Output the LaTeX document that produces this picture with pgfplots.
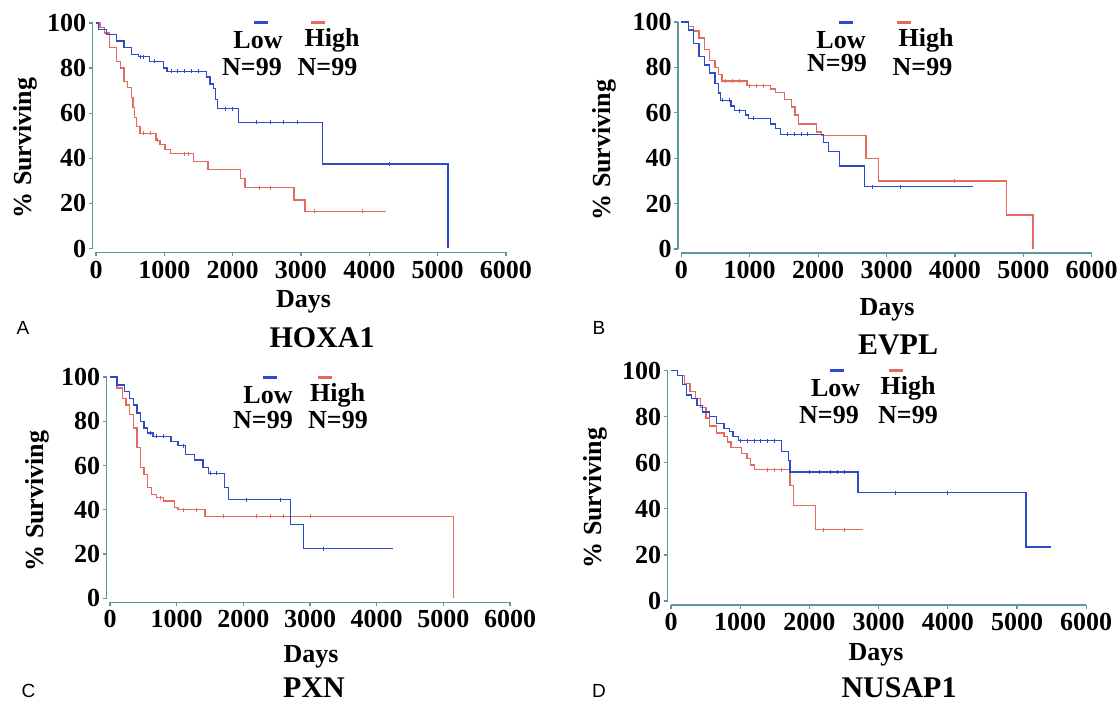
\documentclass[border=0pt]{standalone}
\usepackage{pgfplots}
\pgfplotsset{compat=1.18}
\usepackage{fontspec}
\setmainfont{Liberation Serif}
\newfontfamily\sansf{Liberation Sans}
\definecolor{kmblue}{RGB}{45,75,200}
\definecolor{kmred}{RGB}{228,105,95}
\definecolor{axcol}{RGB}{95,150,160}

\pgfplotsset{
  km/.style={
    anchor=origin, xmin=0, xmax=6000, ymin=0, ymax=100,
    axis lines=left, axis line style={-, draw=axcol, line width=0.6pt},
    axis x line shift=2pt, axis y line shift=1.7pt,
    xtick={0,1000,...,6000}, ytick={0,20,...,100},
    tick align=outside, major tick length=2pt,
    tick style={draw=axcol, line width=0.6pt},
    /pgf/number format/assume math mode=true,
    /pgf/number format/1000 sep={},
    ticklabel style={font=\fontsize{13}{13}\selectfont\bfseries},
    xticklabel style={inner sep=1pt, yshift=-1pt},
    yticklabel style={inner sep=1pt},
    clip=false,
  },
  low/.style={kmblue, line width=0.65pt, const plot},
  high/.style={kmred, line width=0.65pt, const plot},
  cens/.style={only marks, mark=|, mark size=1pt, mark options={line width=0.5pt}},
}
\newcommand{\lbl}{\fontsize{13}{13}\selectfont\bfseries}
\newcommand{\ttl}{\fontsize{15}{15}\selectfont\bfseries}

\begin{document}
\begin{tikzpicture}[x=0.5pt, y=0.5pt]
\useasboundingbox (0,0) rectangle (1118,705);

% ---------- A: HOXA1
\begin{axis}[km, at={(48pt,228.25pt)}, x=0.034167pt, y=1.1275pt]
\addplot[high] coordinates {(0,100) (60,98) (120,95.5) (200,89) (305,83) (357,80) (410,74) (460,71.5) (515,67) (540,62.5) (567,58) (593,54) (645,51) (880,48) (935,46) (1010,44) (1090,42) (1430,38.5) (1640,35) (2115,31) (2180,27) (2900,21.5) (3060,16.5) (4240,16.5)};
\addplot[low] coordinates {(0,100) (40,97) (150,95) (300,92) (410,89) (515,86) (620,85) (780,83) (990,80) (1040,78.5) (1620,76) (1670,73) (1720,71) (1750,66) (1775,62) (2090,56) (3320,37.5) (5150,0)};
\addplot[kmred, cens] coordinates {(700,51) (800,51) (900,48) (1300,42) (1350,42) (2400,27) (2550,27) (3200,16.5) (3900,16.5)};
\addplot[kmblue, cens] coordinates {(650,85) (700,85) (850,83) (1100,78.5) (1200,78.5) (1300,78.5) (1400,78.5) (1500,78.5) (1900,62) (2000,62) (2350,56) (2550,56) (2750,56) (2950,56) (4300,37.5)};
\end{axis}

% ---------- B: EVPL
\begin{axis}[km, at={(340.65pt,228pt)}, x=0.0342pt, y=1.135pt]
\addplot[high] coordinates {(0,100) (104,98) (180,96) (260,93) (338,88) (415,83) (494,80) (545,77) (597,74) (960,72) (1300,70.5) (1377,69) (1506,66) (1610,62.5) (1660,59) (1714,55) (1974,51.5) (2052,50) (2700,40) (2883,30) (4753,15) (5143,0)};
\addplot[low] coordinates {(0,100) (104,96.5) (180,90.6) (260,84.8) (338,81) (415,77.5) (494,73) (545,68.7) (571,65.5) (727,63) (780,61) (935,59) (987,57.5) (1300,55) (1377,53) (1455,50.5) (2078,47) (2156,43) (2312,36.5) (2675,27.5) (4260,27.5)};
\addplot[kmred, cens] coordinates {(650,74) (750,74) (850,74) (1000,72) (1100,72) (1200,72) (4000,30)};
\addplot[kmblue, cens] coordinates {(600,65.5) (700,65.5) (850,61) (1050,57.5) (1550,50.5) (1650,50.5) (1750,50.5) (1850,50.5) (2800,27.5) (3200,27.5)};
\end{axis}

% ---------- C: PXN
\begin{axis}[km, at={(55pt,53.35pt)}, x=0.033333pt, y=1.1065pt]
\addplot[high] coordinates {(0,100) (107,95) (188,90.4) (242,87.4) (295,83) (350,77) (403,68) (456,59) (510,56) (564,50) (618,47) (698,45.5) (805,44) (967,41) (1020,40) (1423,37) (5156,0)};
\addplot[low] coordinates {(0,100) (107,96.4) (215,93.4) (295,90.4) (350,87.4) (403,83.7) (456,80) (510,77) (564,74.7) (645,73.2) (913,71) (1020,69) (1128,65) (1262,62.5) (1396,59) (1477,56.5) (1718,50) (1772,44.5) (2712,33.5) (2900,22.5) (4243,22.5)};
\addplot[kmred, cens] coordinates {(750,45.5) (1100,40) (1300,40) (1700,37) (2200,37) (2400,37) (2600,37) (3000,37)};
\addplot[kmblue, cens] coordinates {(600,74.7) (700,73.2) (800,73.2) (1100,69) (1500,56.5) (1600,56.5) (2050,44.5) (2550,44.5) (3200,22.5)};
\end{axis}

% ---------- D: NUSAP1
\begin{axis}[km, at={(335.5pt,52pt)}, x=0.0346pt, y=1.1515pt]
\addplot[high] coordinates {(0,100) (93,98) (196,94.5) (274,91) (351,88) (429,84) (506,79.5) (558,76) (661,73) (765,71.4) (816,69) (868,66.5) (1023,64) (1100,62) (1152,59) (1204,57) (1721,50) (1773,41.5) (2083,31) (2780,31)};
\addplot[low] coordinates {(0,100) (93,98) (170,94) (222,89.5) (300,88) (377,85) (455,82) (558,80) (661,77) (765,75) (842,73.6) (894,71.4) (971,69.6) (1592,65) (1695,61) (1721,56) (2703,47) (5132,23.5) (5493,23.5)};
\addplot[kmred, cens] coordinates {(1400,57) (1500,57) (1600,57) (2200,31) (2500,31)};
\addplot[kmblue, cens] coordinates {(1000,69.6) (1100,69.6) (1200,69.6) (1300,69.6) (1400,69.6) (1500,69.6) (2000,56) (2150,56) (2300,56) (2400,56) (2500,56) (3250,47) (4000,47)};
\end{axis}

% ---------- legends
\foreach \bx/\rx/\dy/\lx/\ly/\nlx/\nly/\hx/\nhx/\nhy in {
  261/318/682/258/665/252/638/332/327.5/638,
  845.5/904/682/841/665/837/642/926/922.5/638,
  269.5/325/327/268/310/263/285/337.5/338/285,
  837/896/334/835.7/317/829/290/908/908/290}{
  \draw[kmblue, line width=1.5pt] (\bx-7,\dy) -- (\bx+7,\dy);
  \draw[kmred, line width=1.5pt] (\rx-7,\dy) -- (\rx+7,\dy);
  \node[font=\lbl] at (\lx,\ly) {Low};
  \node[font=\lbl] at (\nlx,\nly) {N=99};
  \node[font=\lbl] at (\hx,\ly) {High};
  \node[font=\lbl] at (\nhx,\nhy) {N=99};
}

% ---------- axis titles
\node[font=\lbl] at (303.6,403) {Days};
\node[font=\lbl] at (887,395) {Days};
\node[font=\lbl] at (311,48) {Days};
\node[font=\lbl] at (876,50) {Days};
\node[font=\lbl, rotate=90] at (25,557) {\% Surviving};
\node[font=\lbl, rotate=90] at (604.6,555) {\% Surviving};
\node[font=\lbl, rotate=90] at (37.5,204) {\% Surviving};
\node[font=\lbl, rotate=90] at (595.7,207) {\% Surviving};

% ---------- gene names and panel letters
\node[font=\ttl] at (322,367) {HOXA1};
\node[font=\ttl] at (898,360) {EVPL};
\node[font=\ttl, inner sep=0pt] at (314,17) {PXN};
\node[font=\ttl, inner sep=0pt] at (899,17) {NUSAP1};
\node[font=\sansf\fontsize{9.5}{10}\selectfont] at (23,377) {A};
\node[font=\sansf\fontsize{9.5}{10}\selectfont] at (599,377) {B};
\node[font=\sansf\fontsize{9.5}{10}\selectfont] at (28.6,14) {C};
\node[font=\sansf\fontsize{9.5}{10}\selectfont] at (599,14) {D};
\end{tikzpicture}
\end{document}
